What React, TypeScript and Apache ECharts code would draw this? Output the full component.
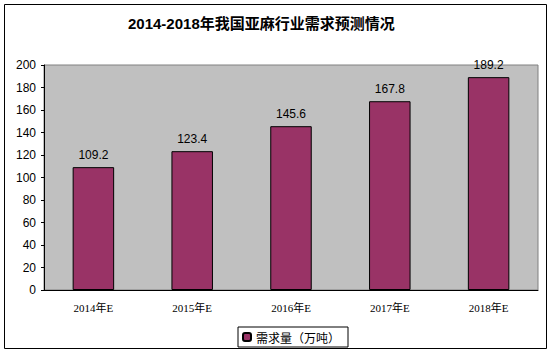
import React, { useEffect, useRef } from "react";
import * as echarts from "echarts";

const categories = ["2014年E", "2015年E", "2016年E", "2017年E", "2018年E"];
const demand = [109.2, 123.4, 145.6, 167.8, 189.2];
const seriesName = "需求量（万吨）";
const titleText = "2014-2018年我国亚麻行业需求预测情况";

export default function App() {
  const ref = useRef<HTMLDivElement>(null);
  useEffect(() => {
    if (!ref.current) return;
    const chart = echarts.init(ref.current, null, { renderer: "svg" });
    chart.setOption({
      animation: false,
      backgroundColor: "#ffffff",
      title: {
        text: titleText,
        left: 128,
        top: 16,
        padding: 0,
        textStyle: { fontSize: 15, fontWeight: "bold", color: "#000", fontFamily: "Arial, 'Noto Sans CJK SC'" },
      },
      graphic: [
        {
          type: "rect",
          shape: { x: 4.5, y: 4.5, width: 542, height: 344 },
          style: { fill: "none", stroke: "#000", lineWidth: 1 },
          silent: true,
          z: -1,
        },
      ],
      grid: {
        left: 44,
        right: 14,
        top: 65,
        bottom: 66,
        show: true,
        backgroundColor: "#C0C0C0",
        borderColor: "#808080",
        borderWidth: 1,
      },
      legend: {
        data: [seriesName],
        top: 327,
        left: 238,
        itemWidth: 8,
        itemHeight: 8,
        itemGap: 4,
        borderColor: "#000",
        borderWidth: 1,
        padding: [4, 8, 4, 4],
        textStyle: { fontSize: 12, color: "#000", fontFamily: "'Noto Sans CJK SC', sans-serif" },
      },
      xAxis: {
        type: "category",
        data: categories,
        axisLine: { lineStyle: { color: "#000", width: 1 } },
        axisTick: { inside: true, length: 3, lineStyle: { color: "#000" } },
        axisLabel: { color: "#000", fontSize: 11, margin: 12, fontFamily: "'Liberation Serif', 'Noto Sans CJK SC', serif" },
      },
      yAxis: {
        type: "value",
        min: 0,
        max: 200,
        interval: 20,
        splitLine: { show: false },
        axisLine: { show: true, lineStyle: { color: "#000", width: 1 } },
        axisTick: { show: true, length: 3, lineStyle: { color: "#000" } },
        axisLabel: { color: "#000", fontSize: 12, margin: 8, fontFamily: "Arial, 'Liberation Sans', sans-serif" },
      },
      series: [
        {
          name: seriesName,
          type: "bar",
          data: demand,
          barWidth: "42%",
          itemStyle: { color: "#993366", borderColor: "#000", borderWidth: 1 },
          label: {
            show: true,
            position: "top",
            distance: 6,
            color: "#000",
            fontSize: 12,
            fontFamily: "Arial, 'Liberation Sans', sans-serif",
          },
        },
      ],
    });
    return () => chart.dispose();
  }, []);
  return <div ref={ref} style={{ width: 552, height: 356, position: "absolute", left: 0, top: 0 }} />;
}
